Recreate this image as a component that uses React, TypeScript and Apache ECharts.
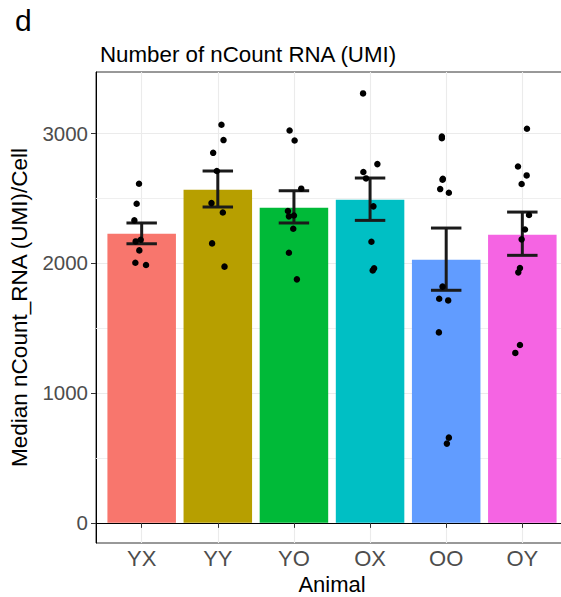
import React, { useEffect, useRef } from "react";
import * as echarts from "echarts";

const categories = ["YX", "YY", "YO", "OX", "OO", "OY"];
const barColors = ["#F8766D", "#B79F00", "#00BA38", "#00BFC4", "#619CFF", "#F564E3"];
const barMeans = [2225, 2564, 2425, 2487, 2025, 2218];
const errLow = [2148, 2431, 2308, 2328, 1790, 2059];
const errHigh = [2308, 2708, 2556, 2654, 2269, 2392];

const pointsYX = [2610, 2456, 2328, 2179, 2166, 2097, 2002, 1985];
const jitterYX = [-0.035, -0.066, -0.096, -0.013, -0.079, -0.031, -0.083, 0.057];
const pointsYY = [3064, 2946, 2848, 2708, 2461, 2389, 2151, 1972];
const jitterYY = [0.048, 0.075, -0.061, -0.013, -0.083, 0.066, -0.075, 0.088];
const pointsYO = [3020, 2943, 2572, 2400, 2359, 2366, 2264, 2079, 1874];
const jitterYO = [-0.057, 0.009, 0.096, -0.079, -0.066, 0, -0.009, -0.066, 0.039];
const pointsOX = [3305, 2761, 2700, 2651, 2436, 2164, 1959, 1943];
const jitterOX = [-0.092, 0.096, -0.088, -0.053, 0.044, 0.018, 0.053, 0.035];
const pointsOO = [2974, 2961, 2648, 2641, 2569, 2541, 1818, 1725, 1712, 1466, 656, 610];
const jitterOO = [-0.057, -0.057, -0.044, -0.048, -0.079, 0.035, -0.048, -0.092, 0.026, -0.096, 0.035, 0.009];
const pointsOY = [3033, 2743, 2674, 2608, 2369, 2258, 2182, 1961, 1928, 1369, 1308];
const jitterOY = [0.061, -0.057, 0.057, -0.009, 0.088, 0.035, -0.009, -0.031, -0.053, -0.031, -0.092];

const yTicks = [0, 1000, 2000, 3000];
const yMinorTicks = [500, 1500, 2500];

const allPoints = [pointsYX, pointsYY, pointsYO, pointsOX, pointsOO, pointsOY];
const allJitter = [jitterYX, jitterYY, jitterYO, jitterOX, jitterOO, jitterOY];

const FONT = "Liberation Sans, Arial, sans-serif";

export default function App() {
  const ref = useRef<HTMLDivElement>(null);
  useEffect(() => {
    document.body.style.margin = "0";
    if (!ref.current) return;
    const chart = echarts.init(ref.current, undefined, { renderer: "svg" });
    const catPos = categories.map((_, i) => i + 1);
    const scatterData: number[][] = [];
    allPoints.forEach((arr, i) => {
      arr.forEach((v, j) => scatterData.push([i + 1 + allJitter[i][j], v]));
    });
    const option: any = {
      animation: false,
      textStyle: { fontFamily: FONT },
      title: [
        {
          text: "d",
          left: 10,
          top: 0,
          textStyle: { fontSize: 30, fontWeight: "normal", color: "#000", fontFamily: FONT },
        },
        {
          text: "Number of nCount RNA (UMI)",
          left: 95,
          top: 38,
          textStyle: { fontSize: 22.3, fontWeight: "normal", color: "#000", fontFamily: FONT },
        },
      ],
      grid: {
        left: 96,
        top: 72,
        right: -7,
        bottom: 54,
        show: true,
        borderColor: "#333333",
        borderWidth: 1,
        backgroundColor: "transparent",
        containLabel: false,
        outerBoundsMode: "none",
      },
      xAxis: {
        type: "value",
        min: 0.4,
        max: 6.6,
        name: "Animal",
        nameLocation: "middle",
        nameGap: 27,
        nameTextStyle: { fontSize: 22, color: "#000", fontFamily: FONT },
        axisLine: { show: true, lineStyle: { color: "#000", width: 1 } },
        axisTick: { show: true, length: 5, customValues: catPos, lineStyle: { color: "#333" } },
        axisLabel: {
          show: true,
          customValues: catPos,
          margin: 4,
          fontSize: 22,
          color: "#4D4D4D",
          fontFamily: FONT,
          formatter: (v: number) => categories[Math.round(v) - 1] ?? "",
        },
        splitLine: { show: true, lineStyle: { color: "#EBEBEB", width: 1.1 } },
      },
      yAxis: {
        type: "value",
        min: -155,
        max: 3470,
        name: "Median nCount_RNA (UMI)/Cell",
        nameLocation: "middle",
        nameGap: 57,
        nameTextStyle: { fontSize: 22.5, color: "#000", fontFamily: FONT },
        axisLine: { show: true, lineStyle: { color: "#000", width: 1 } },
        axisTick: { show: true, length: 5, customValues: yTicks, lineStyle: { color: "#333" } },
        axisLabel: {
          show: true,
          customValues: yTicks,
          margin: 8,
          fontSize: 20.5,
          color: "#4D4D4D",
          fontFamily: FONT,
          formatter: (v: number) => String(Math.round(v)),
        },
        splitLine: { show: true, lineStyle: { color: "#EBEBEB", width: 1.1 } },
      },
      series: [
        {
          type: "custom",
          name: "bars",
          z: 3,
          data: barMeans.map((v, i) => [i + 1, v, i]),
          renderItem: (params: any, api: any) => {
            const x = api.value(0);
            const v = api.value(1);
            const idx = api.value(2);
            const p0 = api.coord([x - 0.45, v]);
            const p1 = api.coord([x + 0.45, 0]);
            return {
              type: "rect",
              shape: { x: p0[0], y: p0[1], width: p1[0] - p0[0], height: p1[1] - p0[1] },
              style: { fill: barColors[idx] },
            };
          },
          markLine: {
            silent: true,
            symbol: "none",
            z: 1,
            label: { show: false },
            lineStyle: { color: "#EDEDED", width: 0.9, type: "solid" },
            data: yMinorTicks.map((v) => ({ yAxis: v })),
          },
        },
        {
          type: "custom",
          name: "errorbars",
          z: 4,
          data: barMeans.map((_, i) => [i + 1, errLow[i], errHigh[i]]),
          renderItem: (params: any, api: any) => {
            const x = api.value(0);
            const lo = api.value(1);
            const hi = api.value(2);
            const pLo = api.coord([x, lo]);
            const pHi = api.coord([x, hi]);
            const cL = api.coord([x - 0.2, lo]);
            const cR = api.coord([x + 0.2, lo]);
            const style = { stroke: "#1A1A1A", lineWidth: 3 };
            return {
              type: "group",
              children: [
                { type: "line", shape: { x1: pLo[0], y1: pLo[1], x2: pHi[0], y2: pHi[1] }, style },
                { type: "line", shape: { x1: cL[0], y1: pLo[1], x2: cR[0], y2: pLo[1] }, style },
                { type: "line", shape: { x1: cL[0], y1: pHi[1], x2: cR[0], y2: pHi[1] }, style },
              ],
            };
          },
        },
        {
          type: "scatter",
          name: "points",
          z: 5,
          symbolSize: 6.5,
          itemStyle: { color: "#000", opacity: 1 },
          data: scatterData,
        },
      ],
    };
    chart.setOption(option);
    return () => chart.dispose();
  }, []);
  return <div ref={ref} style={{ width: 561, height: 597 }} />;
}
